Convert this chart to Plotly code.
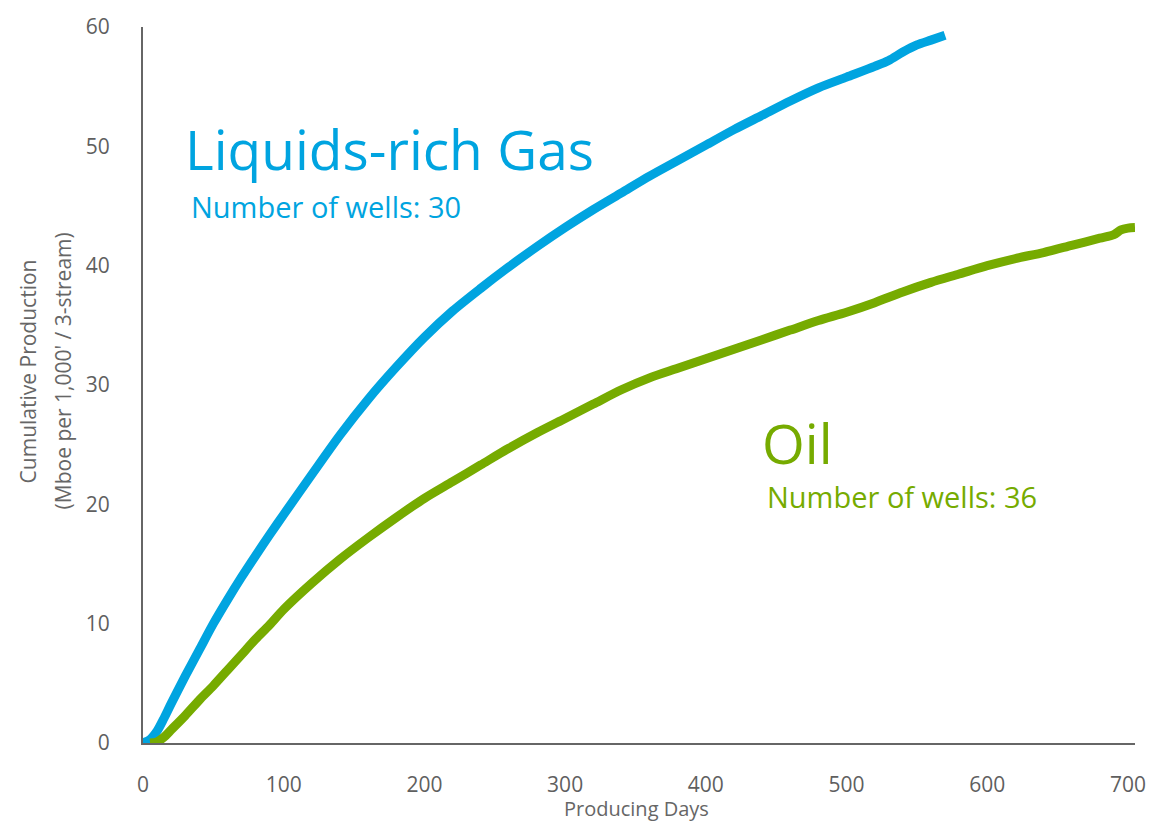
import plotly.graph_objects as go

# Liquids-rich gas type curve (producing days -> cumulative Mboe per 1,000')
gas_days = [0, 5, 10, 15, 20, 30, 40, 50, 60, 70, 80, 90, 100, 120, 140, 160, 180,
            200, 220, 240, 260, 280, 300, 320, 340, 360, 380, 400, 420, 440, 460,
            480, 500, 520, 530, 540, 550, 560, 570]
gas_vals = [0, 0.3, 1.0, 2.1, 3.3, 5.6, 7.8, 10.0, 12.0, 13.9, 15.7, 17.45, 19.15,
            22.5, 25.8, 28.8, 31.5, 34.0, 36.2, 38.1, 39.9, 41.6, 43.2, 44.7, 46.1,
            47.5, 48.8, 50.1, 51.4, 52.6, 53.8, 54.9, 55.8, 56.7, 57.2, 57.9, 58.5,
            58.9, 59.3]

# Oil type curve
oil_days = [5, 10, 15, 20, 30, 40, 50, 60, 70, 80, 90, 100, 120, 140, 160, 180,
            200, 220, 240, 260, 280, 300, 320, 340, 360, 380, 400, 420, 440, 460,
            480, 500, 520, 540, 560, 580, 600, 620, 640, 660, 680, 690, 695, 700, 705]
oil_vals = [0, 0.1, 0.5, 1.1, 2.3, 3.6, 4.8, 6.1, 7.4, 8.7, 9.9, 11.2, 13.4, 15.4,
            17.2, 18.9, 20.5, 21.9, 23.3, 24.7, 26.0, 27.2, 28.4, 29.6, 30.6, 31.4,
            32.2, 33.0, 33.8, 34.6, 35.4, 36.1, 36.9, 37.8, 38.6, 39.3, 40.0, 40.6,
            41.1, 41.7, 42.3, 42.6, 43.0, 43.15, 43.2]

x_ticks = [0, 100, 200, 300, 400, 500, 600, 700]
y_ticks = [0, 10, 20, 30, 40, 50, 60]

GAS_COLOR = "#00A4E0"
OIL_COLOR = "#76AB00"
AXIS_COLOR = "#666666"
TICK_COLOR = "#5f5f5f"
FONT = "Open Sans"

fig = go.Figure()
fig.add_trace(go.Scatter(x=gas_days, y=gas_vals, mode="lines",
                         line=dict(color=GAS_COLOR, width=9, shape="spline", smoothing=0.8),
                         name="Liquids-rich Gas", hoverinfo="x+y"))
fig.add_trace(go.Scatter(x=oil_days, y=oil_vals, mode="lines",
                         line=dict(color=OIL_COLOR, width=9, shape="spline", smoothing=0.8),
                         name="Oil", hoverinfo="x+y"))

annos = [
    dict(text="Liquids-rich Gas", x=28.4, y=49.8, size=55, color=GAS_COLOR),
    dict(text="Number of wells: 30", x=33, y=44.95, size=29, color=GAS_COLOR),
    dict(text="Oil", x=438.5, y=25.2, size=55, color=OIL_COLOR),
    dict(text="Number of wells: 36", x=441.7, y=20.65, size=29, color=OIL_COLOR),
]
for a in annos:
    fig.add_annotation(x=a["x"], y=a["y"], xref="x", yref="y", text=a["text"],
                       showarrow=False, xanchor="left", yanchor="middle",
                       font=dict(family=FONT, size=a["size"], color=a["color"]))

# axis titles
fig.add_annotation(text="Cumulative Production", xref="paper", yref="paper",
                   x=0, y=0.519, xshift=-115, textangle=-90, showarrow=False,
                   xanchor="center", yanchor="middle",
                   font=dict(family=FONT, size=21, color=AXIS_COLOR))
fig.add_annotation(text="(Mboe per 1,000' / 3-stream)", xref="paper", yref="paper",
                   x=0, y=0.519, xshift=-80, textangle=-90, showarrow=False,
                   xanchor="center", yanchor="middle",
                   font=dict(family=FONT, size=21, color=AXIS_COLOR))
fig.add_annotation(text="Producing Days", xref="paper", yref="paper",
                   x=0.5, y=0, xshift=-3, yshift=-65, showarrow=False,
                   xanchor="center", yanchor="middle",
                   font=dict(family=FONT, size=20, color=AXIS_COLOR))

fig.update_layout(
    width=1170, height=821,
    margin=dict(l=143, r=35, t=20, b=78),
    paper_bgcolor="white", plot_bgcolor="white",
    showlegend=False,
    font=dict(family=FONT, color=AXIS_COLOR, size=21),
    xaxis=dict(range=[0, 705], tickvals=x_ticks, showgrid=False, zeroline=False,
               showline=True, linecolor=AXIS_COLOR, linewidth=2, ticks="",
               ticklabelstandoff=22, tickfont=dict(size=21, color=TICK_COLOR)),
    yaxis=dict(range=[0, 60], tickvals=y_ticks, showgrid=False, zeroline=False,
               showline=True, linecolor=AXIS_COLOR, linewidth=2, ticks="",
               ticklabelstandoff=27, tickfont=dict(size=21, color=TICK_COLOR)),
)

fig.write_html("out.html",
               config={"displayModeBar": False},
               post_script="document.body.style.margin='0';document.body.style.overflow='hidden';")
